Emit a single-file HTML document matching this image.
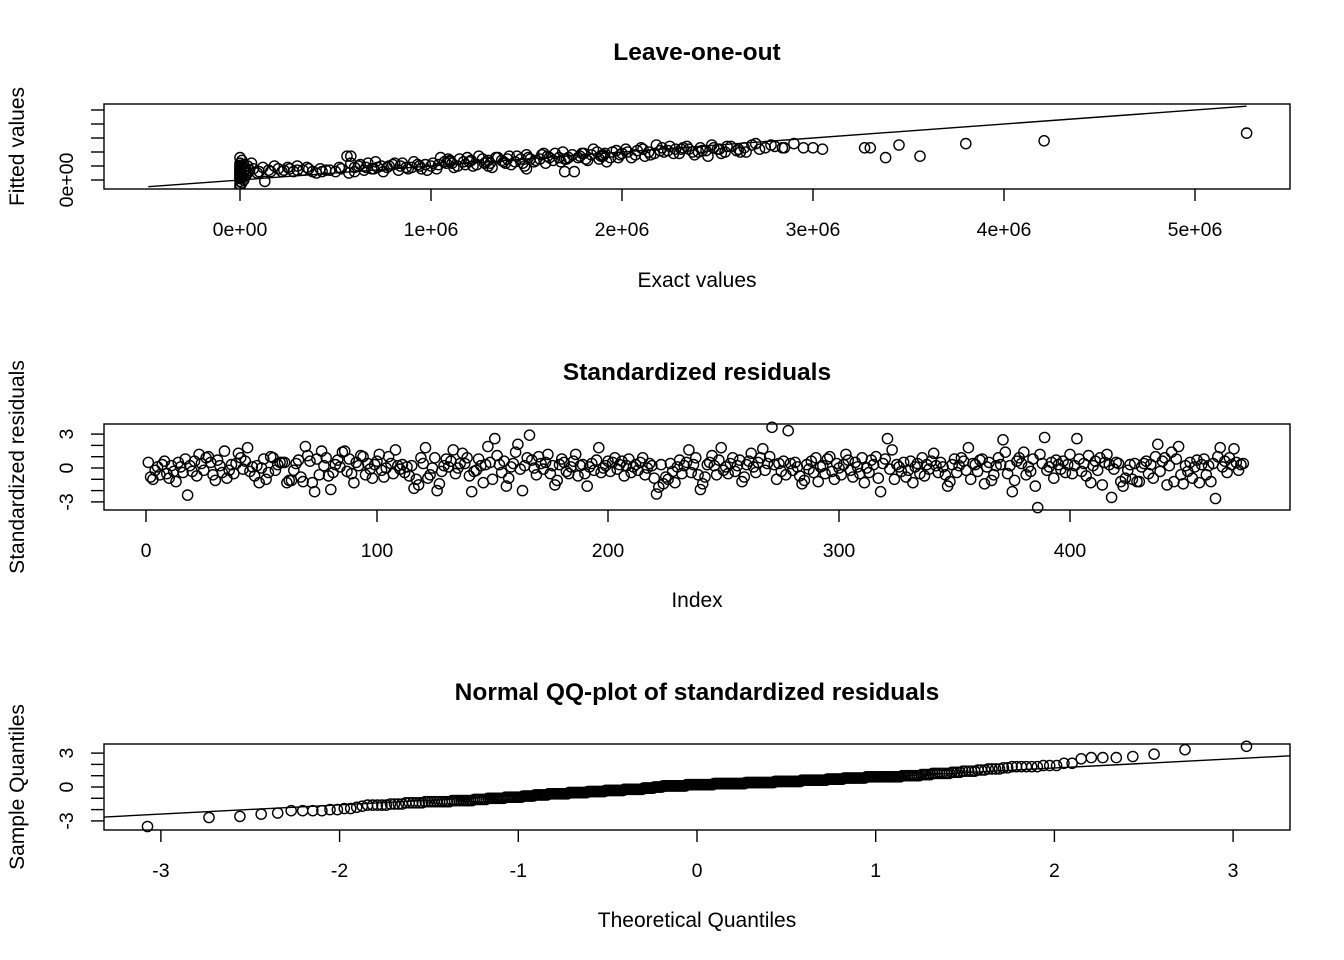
<!DOCTYPE html>
<html><head><meta charset="utf-8"><style>
html,body{margin:0;padding:0;background:#fff}
svg{display:block;font-family:"Liberation Sans",sans-serif}
</style></head><body>
<svg id="c" width="1344" height="960" viewBox="0 0 1344 960"></svg>
<script>
// Panel 1 data (values in units of 1e6)
const exactVals=[0,0,0,0,0,0,0,0,0,0,0,0,0,0,0,0.01,0.01,0.01,0.02,0.02,0.02,0.03,0.03,0.04,0.05,0.06,
0.1,0.13,0.16,0.2,0.23,0.25,0.28,0.3,0.33,0.36,0.4,0.43,0.45,0.5,0.53,0.56,0.58,0.6,0.62,0.65,0.67,0.7,0.72,0.75,0.78,0.8,0.83,0.85,0.88,0.9,0.93,0.95,0.98,0.58,0.6,
1.0,1.03,1.05,1.08,1.1,1.12,1.15,1.18,1.2,1.22,1.25,1.28,1.3,1.32,1.35,1.38,1.4,1.42,1.45,1.48,1.5,1.52,1.55,1.58,1.6,1.62,1.65,1.68,1.7,1.72,1.75,1.78,1.8,1.82,1.85,1.88,1.9,1.92,1.95,1.98,1.1,1.3,1.5,1.7,1.9,
2.0,2.05,2.1,2.15,2.2,2.25,2.3,2.35,2.4,2.45,2.5,2.55,2.6,2.65,2.7,2.75,2.8,2.85,2.9,2.95,3.0,3.05,2.02,2.12,2.22,2.32,2.42,2.52,2.62,2.08,2.18,2.28,2.38,2.48,
3.27,3.3,3.38,3.45,3.56,3.8,4.21,5.27,
0,0,0,0,0.01,0.02,0.03,0.04,0.07,0.09,0.12,0.15,0.18,0.22,0.26,0.3,0.35,0.38,0.42,0.47,0.52,0.57,0.63,0.66,0.69,0.71,0.74,0.77,0.81,0.84,0.87,0.91,0.94,0.97,
1.01,1.04,1.07,1.09,1.11,1.14,1.17,1.19,1.21,1.24,1.27,1.29,1.31,1.34,1.37,1.39,1.41,1.44,1.47,1.49,1.51,1.54,1.57,1.59,1.61,1.64,1.67,1.69,1.71,1.74,1.77,1.79,1.81,1.84,1.87,1.89,1.91,1.94,1.97,1.99,
2.03,2.07,2.11,2.14,2.17,2.21,2.24,2.27,2.31,2.34,2.37,2.41,2.44,2.47,2.51,2.54,2.57,2.61,2.64,2.68,2.72,2.78,2.84];
const fittedVals=[-0.5,-0.3,-0.1,0.1,0.2,0.3,0.4,0.5,0.6,0.7,0.8,0.9,1.0,1.2,1.6,-0.2,0.4,1.4,0.0,0.6,1.1,0.3,0.8,0.5,0.7,1.2,
0.6,-0.1,0.6,0.8,0.7,0.9,0.6,1.0,0.7,0.8,0.5,0.6,0.7,0.6,0.8,1.7,1.2,0.6,1.0,0.7,1.2,0.8,0.9,0.6,1.0,1.1,0.7,1.2,0.8,0.9,1.1,0.8,0.7,1.7,0.9,
1.0,0.8,1.6,1.2,1.4,0.9,1.5,1.1,1.3,1.0,1.7,1.2,1.4,0.9,1.6,1.3,1.5,1.1,1.7,1.2,0.8,1.5,1.4,1.8,1.2,1.6,1.9,1.3,0.6,1.6,0.6,1.7,1.9,1.4,2.2,1.5,1.8,1.3,2.0,1.6,1.3,1.0,1.8,1.5,1.7,
1.9,1.6,2.3,1.8,2.1,2.4,1.9,2.2,2.0,1.7,2.2,2.4,2.1,2.0,2.6,2.3,2.4,2.3,2.6,2.3,2.3,2.2,2.2,1.7,2.0,2.3,2.1,1.9,2.0,2.1,2.5,2.2,1.8,2.3,
2.3,2.3,1.6,2.5,1.7,2.6,2.8,3.35,
0.15,0.45,0.75,1.05,0.25,0.9,0.55,1.0,0.8,0.5,0.9,0.7,1.0,0.6,0.8,0.7,0.9,0.6,0.8,0.7,0.9,0.5,1.1,0.9,0.8,1.3,1.0,0.9,1.2,1.0,0.9,1.3,1.0,1.1,
1.2,1.1,1.3,1.5,1.2,1.0,1.3,1.6,1.4,1.1,1.5,1.3,1.2,1.6,1.4,1.2,1.7,1.3,1.5,1.0,1.6,1.3,1.5,1.9,1.7,1.4,1.6,2.0,1.5,1.8,1.6,1.9,1.5,1.8,2.0,1.7,1.9,1.6,2.1,1.8,
2.0,1.8,2.2,2.0,1.9,2.3,2.1,1.9,2.2,2.4,2.0,2.3,2.1,2.5,2.2,2.0,2.4,2.2,2.3,2.5,2.2,2.5,2.3];
const xTicks1=[0,1,2,3,4,5];
const xTickLabels1=["0e+00","1e+06","2e+06","3e+06","4e+06","5e+06"];
// Panel 2 data
const residuals=[0.5,-0.8,-1.0,-0.2,0.1,-0.6,0.3,0.6,-0.5,-0.9,0.2,-0.3,-1.2,0.5,0.1,-0.4,0.8,-2.4,0.2,-0.3,0.6,-0.7,1.2,0.4,-0.2,
0.9,1.0,0.5,-0.6,-1.1,0.7,0.2,-0.4,1.5,-0.9,-0.2,0.3,-0.5,0.4,1.3,0.9,-0.1,0.6,1.8,-0.3,0.1,-0.7,0.2,-1.3,0.0,
0.8,-1.0,-0.4,1.0,0.9,-0.2,0.3,0.5,0.5,0.5,-1.3,-1.1,-1.1,-0.2,0.4,0.7,-0.8,-1.2,1.9,1.1,0.6,-1.3,-2.1,0.8,-0.6,
1.5,0.2,0.9,-0.7,-1.9,-0.4,0.3,0.7,0.1,1.4,1.5,-0.3,0.8,-0.5,-1.3,0.5,0.2,1.1,1.0,-0.6,0.4,-0.1,-0.9,0.3,0.6,
1.2,-0.2,-0.8,0.0,1.0,0.4,-0.5,1.6,0.2,-0.1,0.3,-0.4,0.1,-0.7,0.2,-1.8,-1.0,-1.5,0.9,0.4,1.8,-0.9,-0.6,0.0,0.9,
-2.0,-1.4,-0.3,0.2,0.8,0.1,0.6,1.6,-0.5,0.0,0.4,1.3,0.4,0.9,-0.7,-2.1,-0.3,-0.2,0.8,0.2,-1.3,0.3,1.9,0.5,-1.0,
2.6,1.1,0.3,-0.4,0.6,-1.6,-0.9,0.1,0.4,1.4,2.1,-0.1,-2.0,0.2,0.9,2.9,0.7,0.0,-0.6,1.0,0.4,-0.1,0.5,1.2,-0.5,
0.2,-1.5,-1.1,0.3,0.8,0.5,-0.3,-0.5,0.1,0.6,1.2,-0.7,0.2,0.3,-0.5,-1.6,0.1,0.4,-0.2,0.7,1.8,-0.4,0.0,0.2,0.6,
-0.3,0.5,0.9,-0.1,0.3,0.6,-0.7,0.2,0.8,-0.4,0.1,0.3,-0.2,0.5,0.9,-0.6,0.0,0.4,0.2,-0.9,-2.3,-1.7,0.3,-1.4,-0.8,
-1.0,0.4,-0.3,-1.3,0.1,0.7,-0.5,0.2,0.5,1.6,-0.4,0.3,0.9,-0.6,-1.9,-1.4,-0.8,0.3,0.5,1.1,0.2,-0.6,0.7,1.8,-0.2,
0.1,-0.5,0.4,0.9,-0.3,0.2,0.7,-1.2,-0.8,0.3,0.6,1.3,0.1,-0.4,0.5,0.9,1.7,-0.2,0.4,1.0,3.6,0.3,-1.0,0.4,-0.3,
0.6,-0.6,3.3,0.4,-0.2,0.5,0.1,-0.7,-1.4,-1.1,0.3,-0.1,0.6,-0.4,0.9,-1.2,0.1,0.2,-0.5,0.8,1.0,-0.3,-1.0,0.4,0.0,
-0.6,0.3,1.2,0.7,-0.2,-0.8,0.5,0.1,-0.5,0.9,-1.3,0.0,-0.4,0.7,0.3,1.0,-0.9,-2.1,0.4,0.8,2.6,-0.1,1.6,-1.0,0.3,
0.1,-0.3,0.5,-0.8,-0.2,0.6,-1.3,0.1,0.4,-0.5,0.9,-0.7,0.3,-0.1,0.6,1.3,0.2,-0.4,0.5,0.1,-0.6,-1.6,-1.2,0.3,0.8,
-0.4,0.2,0.9,0.6,-0.2,1.8,-1.0,0.4,0.3,-0.3,0.7,0.8,-1.4,0.1,0.5,-1.1,-0.6,0.2,0.9,0.3,2.5,1.4,-0.5,0.2,-2.1,
-1.1,0.6,0.9,0.4,1.4,-0.6,0.1,-0.3,0.8,-1.6,-3.5,1.2,0.4,2.7,-0.2,0.1,0.5,-0.9,0.7,0.3,-0.1,0.6,-0.4,0.3,1.2,
-0.5,0.2,2.6,0.8,-0.3,0.4,-0.7,1.1,-1.3,0.2,0.6,-0.2,0.9,-1.5,0.5,1.2,0.3,-2.6,-0.1,0.5,0.4,-1.2,-1.6,-0.9,-0.2,
0.3,-1.0,0.4,-1.2,-1.2,0.1,0.4,0.6,-0.5,0.3,-0.9,1.0,2.1,-0.3,0.6,0.9,-1.5,0.2,1.4,-1.2,0.8,1.9,-0.6,-1.4,0.2,
-0.3,0.5,-0.9,0.1,0.7,-1.3,0.3,0.8,-0.6,0.2,-1.2,0.4,-2.7,1.0,1.8,0.1,0.6,-0.4,0.9,0.3,1.7,0.5,-0.2,0.3,0.4];
const xTicks2=[0,100,200,300,400];
const xTicks3=[-3,-2,-1,0,1,2,3];

const NS="http://www.w3.org/2000/svg";
const svg=document.getElementById('c');
function mk(tag,attrs,parent){const e=document.createElementNS(NS,tag);for(const k in attrs)e.setAttribute(k,attrs[k]);(parent||svg).appendChild(e);return e;}
function txt(s,x,y,size,opts,parent){opts=opts||{};const a={x:x,y:y,'font-size':size,'text-anchor':'middle',fill:'#000'};if(opts.bold)a['font-weight']='bold';if(opts.rot)a.transform='rotate(-90 '+x+' '+y+')';const t=mk('text',a,parent);t.textContent=s;return t;}
function pt(x,y,g){return mk('circle',{cx:x.toFixed(1),cy:y.toFixed(1),r:5.1,fill:'none',stroke:'#000','stroke-width':1.4},g);}

function panel(o){
  const g=mk('g',{});
  
  
  const defs=mk('defs',{},g);const cp=mk('clipPath',{id:o.name+'-clip'},defs);mk('rect',{x:104,y:o.top,width:1186,height:o.h},cp);
  const box=mk('rect',{x:104,y:o.top,width:1186,height:o.h,fill:'none',stroke:'#000','stroke-width':1.4},g);
  
  
  const t=txt(o.title,697,o.top-44,24.5,{bold:true},g);
  
  
  const xt=txt(o.xlab,697,o.top+183,21,{},g);
  
  
  const yt=txt(o.ylab,24,o.top+o.h/2,21,{rot:true},g);
  
  
  return g;
}
function xAxis(g,vals,labels,sx,bottom){
  const ax=mk('g',{},g);
  
  
  vals.forEach((v,i)=>{mk('line',{x1:sx(v),x2:sx(v),y1:bottom,y2:bottom+12,stroke:'#000','stroke-width':1.4},ax);
    const l=txt(labels[i],sx(v),bottom+47,19.5,{},ax);
    
    });
}
function yAxis(g,vals,labels,sy){
  const ax=mk('g',{},g);
  
  
  vals.forEach((v,i)=>{mk('line',{x1:91,x2:104,y1:sy(v),y2:sy(v),stroke:'#000','stroke-width':1.4},ax);
    if(labels[i]!==''){const l=txt(labels[i],73,sy(v),19.5,{rot:true},ax);
    
    }});
}

// Panel 1
(function(){
  const sx=v=>240+v*191, sy=v=>180-v*14;
  const g=panel({name:'leave-one-out-panel',top:104,h:85,title:'Leave-one-out',xlab:'Exact values',ylab:'Fitted values'});
  xAxis(g,xTicks1,xTickLabels1,sx,189);
  yAxis(g,[0,1,2,3,4,5],['0e+00','','','','',''],sy);
  const ln=mk('line',{x1:sx(-0.48),y1:sy(-0.48),x2:sx(5.27),y2:sy(5.27),stroke:'#000','stroke-width':1.4},g);
  
  
  const pg=mk('g',{'clip-path':'url(#leave-one-out-panel-clip)'},g);
  
  
  exactVals.forEach((v,i)=>pt(sx(v),sy(fittedVals[i]),pg));
})();
// Panel 2
(function(){
  const sx=v=>146+v*2.31, sy=v=>468-v*11.3;
  const g=panel({name:'residuals-panel',top:424,h:86,title:'Standardized residuals',xlab:'Index',ylab:'Standardized residuals'});
  xAxis(g,xTicks2,xTicks2.map(String),sx,510);
  yAxis(g,[-3,-2,-1,0,1,2,3],['-3','','','0','','','3'],sy);
  const pg=mk('g',{},g);
  
  
  residuals.forEach((v,i)=>pt(sx(i+1),sy(v),pg));
})();
// Panel 3
function qnorm(p){const a=[-39.69683028665376,220.9460984245205,-275.9285104469687,138.3577518672690,-30.66479806614716,2.506628277459239],
b=[-54.47609879822406,161.5858368580409,-155.6989798598866,66.80131188771972,-13.28068155288572],
c=[-0.007784894002430293,-0.3223964580411365,-2.400758277161838,-2.549732539343734,4.374664141464968,2.938163982698783],
d=[0.007784695709041462,0.3224671290700398,2.445134137142996,3.754408661907416];
const pl=0.02425;let q,r;
if(p<pl){q=Math.sqrt(-2*Math.log(p));return (((((c[0]*q+c[1])*q+c[2])*q+c[3])*q+c[4])*q+c[5])/((((d[0]*q+d[1])*q+d[2])*q+d[3])*q+1);}
if(p>1-pl){q=Math.sqrt(-2*Math.log(1-p));return -(((((c[0]*q+c[1])*q+c[2])*q+c[3])*q+c[4])*q+c[5])/((((d[0]*q+d[1])*q+d[2])*q+d[3])*q+1);}
q=p-0.5;r=q*q;return (((((a[0]*r+a[1])*r+a[2])*r+a[3])*r+a[4])*r+a[5])*q/(((((b[0]*r+b[1])*r+b[2])*r+b[3])*r+b[4])*r+1);}
(function(){
  const sx=v=>697+v*178.7, sy=v=>787-v*11.3;
  const g=panel({name:'qq-panel',top:744,h:86,title:'Normal QQ-plot of standardized residuals',xlab:'Theoretical Quantiles',ylab:'Sample Quantiles'});
  xAxis(g,xTicks3,xTicks3.map(String),sx,830);
  yAxis(g,[-3,-2,-1,0,1,2,3],['-3','','','0','','','3'],sy);
  const s=residuals.slice().sort((a,b)=>a-b), n=s.length, aa=n<=10?3/8:0.5;
  const th=s.map((v,i)=>qnorm((i+1-aa)/(n+1-2*aa)));
  const qs=p=>{const h=(n-1)*p,lo=Math.floor(h);return s[lo]+(h-lo)*(s[Math.min(lo+1,n-1)]-s[lo]);};
  const y1=qs(0.25),y2=qs(0.75),x1=qnorm(0.25),x2=qnorm(0.75);
  const slope=(y2-y1)/(x2-x1), ic=y1-slope*x1;
  const ln=mk('line',{x1:104,y1:sy(ic+slope*(104-697)/178.7),x2:1290,y2:sy(ic+slope*(1290-697)/178.7),stroke:'#000','stroke-width':1.4},g);
  
  
  const pg=mk('g',{},g);
  
  
  s.forEach((v,i)=>pt(sx(th[i]),sy(v),pg));
})();
</script>
</body></html>
